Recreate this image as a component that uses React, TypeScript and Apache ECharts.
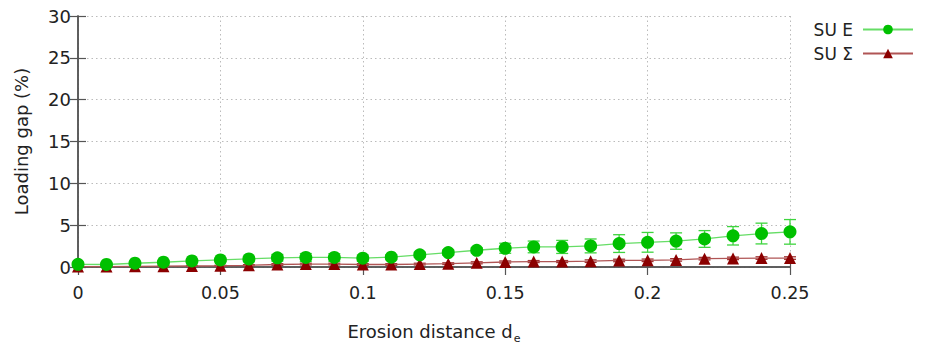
import React, { useEffect, useRef } from "react";
import * as echarts from "echarts";

const xs = [0, 0.01, 0.02, 0.03, 0.04, 0.05, 0.06, 0.07, 0.08, 0.09, 0.1, 0.11, 0.12, 0.13, 0.14, 0.15, 0.16, 0.17, 0.18, 0.19, 0.2, 0.21, 0.22, 0.23, 0.24, 0.25];
const suE = [0.32, 0.3, 0.45, 0.57, 0.73, 0.85, 0.97, 1.1, 1.14, 1.14, 1.06, 1.18, 1.46, 1.73, 2.0, 2.24, 2.4, 2.4, 2.52, 2.8, 2.95, 3.1, 3.35, 3.73, 4.0, 4.2];
const suEErr = [0.15, 0.15, 0.15, 0.2, 0.2, 0.2, 0.3, 0.4, 0.47, 0.45, 0.37, 0.3, 0.3, 0.3, 0.3, 0.6, 0.7, 0.78, 0.83, 1.06, 1.18, 0.98, 1.0, 1.1, 1.24, 1.47];
const suS = [0.05, 0.05, 0.08, 0.1, 0.12, 0.15, 0.2, 0.3, 0.35, 0.35, 0.3, 0.3, 0.35, 0.4, 0.5, 0.6, 0.65, 0.65, 0.7, 0.78, 0.8, 0.85, 1.0, 1.03, 1.07, 1.07];
const suSErr = [0.05, 0.05, 0.05, 0.05, 0.05, 0.05, 0.08, 0.1, 0.1, 0.1, 0.1, 0.1, 0.1, 0.1, 0.12, 0.12, 0.12, 0.12, 0.15, 0.15, 0.15, 0.15, 0.15, 0.15, 0.15, 0.15];
const seriesNames = ["SU E", "SU \u03a3"];

const FONT = "DejaVu Sans";

export default function App() {
  const ref = useRef<HTMLDivElement>(null);
  useEffect(() => {
    if (!ref.current) return;
    const chart = echarts.init(ref.current, undefined, { renderer: "svg" });
    const errRender = (color: string) => (params: any, api: any) => {
      const x = api.value(0);
      const lo = api.value(1);
      const hi = api.value(2);
      const pHi = api.coord([x, hi]);
      const pLo = api.coord([x, lo]);
      const hw = 6;
      const style = { stroke: color, lineWidth: 1.3 };
      return {
        type: "group",
        children: [
          { type: "line", shape: { x1: pHi[0], y1: pHi[1], x2: pLo[0], y2: pLo[1] }, style },
          { type: "line", shape: { x1: pHi[0] - hw, y1: pHi[1], x2: pHi[0] + hw, y2: pHi[1] }, style },
          { type: "line", shape: { x1: pLo[0] - hw, y1: pLo[1], x2: pLo[0] + hw, y2: pLo[1] }, style },
        ],
      };
    };
    const axisLine = { show: true, lineStyle: { color: "#555", width: 1.5 } };
    const tick = { show: true, inside: true, length: 8, lineStyle: { color: "#555", width: 1.2 } };
    const split = { show: true, lineStyle: { color: "#bbb", width: 1, type: [1.5, 3] as any } };
    chart.setOption({
      animation: false,
      grid: { left: 78, right: 136, top: 16, bottom: 81, outerBoundsMode: "none", containLabel: false } as any,
      legend: {
        data: seriesNames,
        orient: "vertical",
        right: 7,
        top: 16,
        align: "right",
        itemWidth: 50,
        itemHeight: 12,
        itemGap: 7,
        textStyle: { fontSize: 17, fontFamily: FONT, color: "#222", padding: [0, 5, 0, 0] },
      },
      xAxis: [
        {
          type: "value",
          min: 0,
          max: 0.25,
          interval: 0.05,
          axisLine,
          axisTick: tick,
          splitLine: split,
          axisLabel: { fontSize: 17.5, fontFamily: FONT, color: "#222", margin: 17 },
          name: "{a|Erosion distance d}{s|e}",
          nameLocation: "middle",
          nameGap: 55,
          nameTextStyle: {
            fontFamily: FONT,
            color: "#222",
            rich: {
              a: { fontSize: 18, fontFamily: FONT, color: "#222", verticalAlign: "top" },
              s: { fontSize: 11, fontFamily: FONT, color: "#222", padding: [11, 0, 0, 1], verticalAlign: "top" },
            },
          },
        },
        {
          type: "value",
          position: "top",
          min: 0,
          max: 0.25,
          interval: 0.05,
          axisLine,
          axisTick: tick,
          splitLine: { show: false },
          axisLabel: { show: false },
        },
      ],
      yAxis: [
        {
          type: "value",
          min: 0,
          max: 30,
          interval: 5,
          axisLine,
          axisTick: tick,
          splitLine: split,
          axisLabel: { fontSize: 18, fontFamily: FONT, color: "#222", margin: 7 },
          name: "Loading gap (%)",
          nameLocation: "middle",
          nameGap: 48,
          nameTextStyle: { fontSize: 18, fontFamily: FONT, color: "#222" },
        },
        {
          type: "value",
          position: "right",
          min: 0,
          max: 30,
          interval: 5,
          axisLine,
          axisTick: tick,
          splitLine: { show: false },
          axisLabel: { show: false },
        },
      ],
      series: [
        {
          name: "errE",
          type: "custom",
          renderItem: errRender("#3ed43e"),
          encode: { x: 0, y: [1, 2] },
          data: xs.map((x, i) => [x, suE[i] - suEErr[i], suE[i] + suEErr[i]]),
          z: 2,
        },
        {
          name: "errS",
          type: "custom",
          renderItem: errRender("#a03030"),
          encode: { x: 0, y: [1, 2] },
          data: xs.map((x, i) => [x, suS[i] - suSErr[i], suS[i] + suSErr[i]]),
          z: 2,
        },
        {
          name: seriesNames[0],
          type: "line",
          data: xs.map((x, i) => [x, suE[i]]),
          symbol: "circle",
          symbolSize: 13,
          itemStyle: { color: "#00c000" },
          lineStyle: { color: "#66dd66", width: 1.3 },
          z: 4,
        },
        {
          name: seriesNames[1],
          type: "line",
          data: xs.map((x, i) => [x, suS[i]]),
          symbol: "triangle",
          symbolSize: 12,
          itemStyle: { color: "#8b0000" },
          lineStyle: { color: "#b05555", width: 1.3 },
          z: 3,
        },
      ],
    });
    return () => chart.dispose();
  }, []);
  return <div ref={ref} style={{ position: "absolute", left: 0, top: 0, width: 926, height: 348 }} />;
}
